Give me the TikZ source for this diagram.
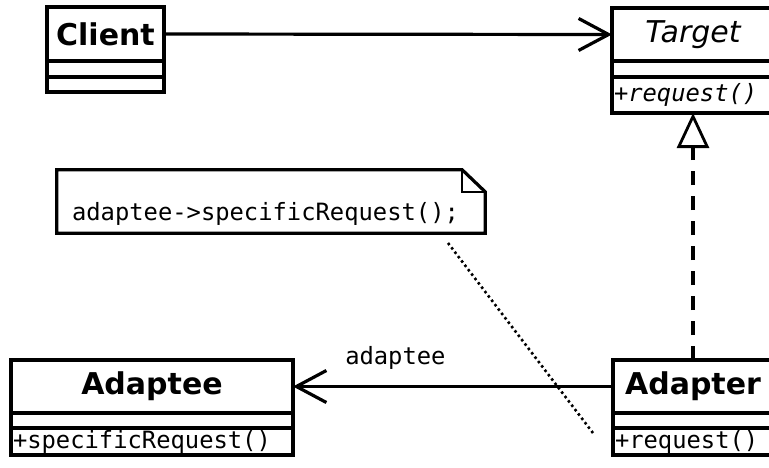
\documentclass[tikz,border=0pt]{standalone}
\usepackage{fontspec}
\setmainfont{DejaVu Sans}
\setmonofont{DejaVu Sans Mono}
\usepackage{tikz}
\usetikzlibrary{arrows.meta,positioning}
\tikzset{cls/.style={draw,line width=3.2pt,outer sep=0pt,inner sep=1pt,font=\bfseries\fontsize{30}{36}\selectfont}}
\tikzset{part/.style={draw,line width=3.2pt,outer sep=0pt,inner xsep=2pt,inner ysep=1pt,align=left,font=\ttfamily\fontsize{23.8}{28}\selectfont}}
\tikzset{lbl/.style={font=\ttfamily\fontsize{23.8}{28}\selectfont,inner sep=1pt}}
\tikzset{assoc/.style={line width=3.2pt,-{Straight Barb[length=30pt,width=32pt]}}}
\tikzset{realize/.style={line width=3.6pt,dash pattern=on 14pt off 11pt,-{Triangle[open,length=35pt,width=32pt,line width=2.8pt]}}}
\tikzset{notelink/.style={line width=2.6pt,dash pattern=on 2.5pt off 3pt}}

\begin{document}
\begin{tikzpicture}[x=1pt,y=-1pt]
    \useasboundingbox (0,0) rectangle (769,467);
    \clip (0,0) rectangle (769,467);

    \node[cls,minimum width=117,minimum height=54] (client)at (105.5,34) {Client};
    \node[part,text width=113,minimum height=16,below=0pt of client] (clientattr) {};
    \node[part,text width=113,minimum height=15,below=0pt of clientattr] (clientops) {};

    \node[cls,font=\itshape\fontsize{30}{36}\selectfont,minimum width=162,minimum height=53] (target)at (693,34.5) {Target};
    \node[part,text width=158,minimum height=16,below=0pt of target] (targetattr) {};
    \node[part,text width=158,minimum height=36,below=0pt of targetattr] (targetops) {\itshape +request()};

    \node[cls,minimum width=282,minimum height=53] (adaptee)at (152,386.5) {Adaptee};
    \node[part,text width=278,minimum height=15,below=0pt of adaptee] (adapteeattr) {};
    \node[part,text width=278,minimum height=27,below=0pt of adapteeattr] (adapteeops) {+specificRequest()};

    \node[cls,minimum width=160,minimum height=53] (adapter)at (693,386.5) {Adapter};
    \node[part,text width=156,minimum height=15,below=0pt of adapter] (adapterattr) {};
    \node[part,text width=156,minimum height=27,below=0pt of adapterattr] (adapterops) {+request()};

    \node[minimum width=428,minimum height=63,inner sep=0pt] (note)at (271,201.5) {};
    \node[lbl] (notetext)at (265.5,214) {adaptee->specificRequest();};
    \draw [line width=3.2pt] (note.north west) -- ([xshift=-23pt]note.north east) -- ([yshift=-22pt]note.north east) -- (note.south east) -- (note.south west) -- cycle;
    \draw [line width=2.4pt] ([xshift=-23pt]note.north east) |- ([yshift=-22pt]note.north east);
    \coordinate (linkstart) at (448,243);
    \coordinate (linkend) at (593,433);

    \draw [assoc] (client.east) to [] (target.west);
    \draw [realize] (adapter.north) to [] (targetops.south);
    \draw [assoc] (adapter.west) to []node[lbl,pos=0.68,above=14pt]{adaptee} (adaptee.east);
    \draw [notelink] (linkstart) to [] (linkend);
\end{tikzpicture}
\end{document}
